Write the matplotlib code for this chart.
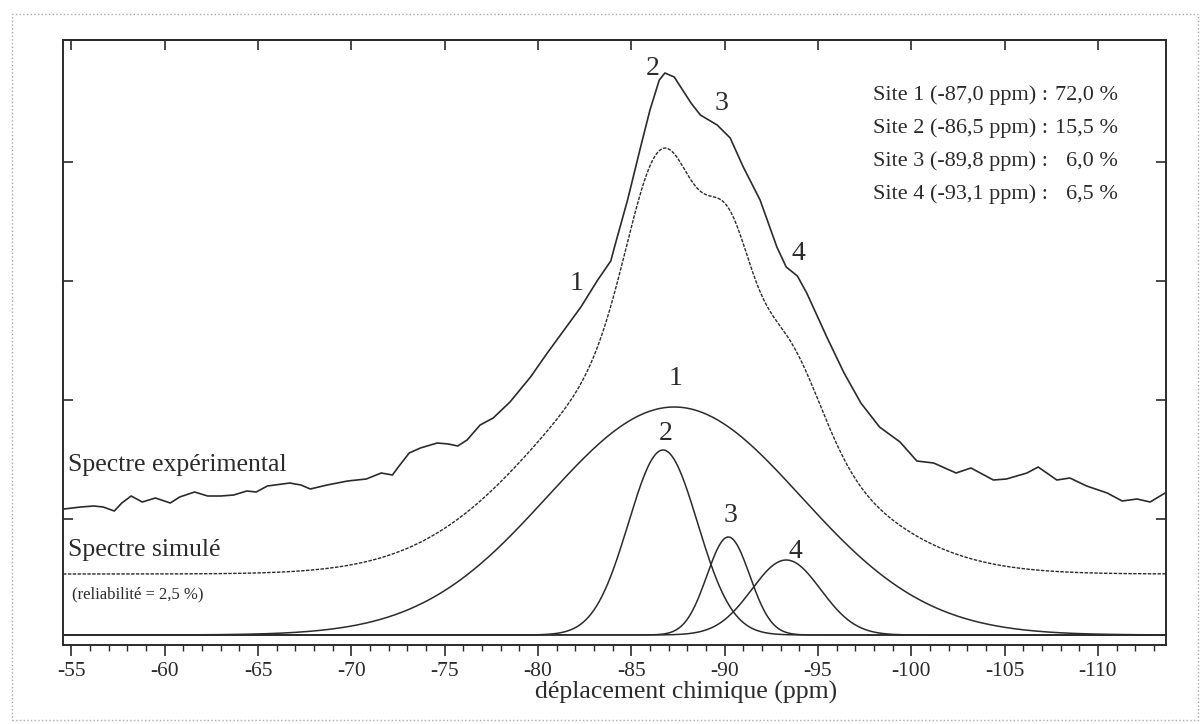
import numpy as np
import matplotlib
matplotlib.use("Agg")
import matplotlib.pyplot as plt
from matplotlib.patches import Rectangle

plt.rcParams['font.family'] = ['Liberation Serif', 'DejaVu Serif']

# spectre expérimental (ppm, intensité en u.a.)
exp_ppm = [-54.6, -55.5, -56.2, -56.7, -57.3, -57.7, -58.2, -58.8, -59.5, -60.3,
           -60.8, -61.6, -62.3, -63.0, -63.7, -64.4, -64.9, -65.5, -66.7, -67.3,
           -67.8, -68.7, -69.8, -70.8, -71.6, -72.2, -72.6, -73.1, -73.7, -74.6,
           -75.2, -75.7, -76.2, -76.9, -77.6, -78.5, -79.6, -80.5, -81.4, -82.3,
           -83.2, -83.9, -84.1, -84.8, -85.5, -86.0, -86.5, -86.8, -87.3, -88.2,
           -88.7, -89.6, -90.3, -91.0, -91.9, -92.8, -93.3, -93.9, -94.4, -95.5,
           -96.4, -97.3, -98.3, -99.4, -100.3, -101.2, -102.4, -103.2, -104.4, -105.1,
           -106.2, -106.8, -107.8, -108.5, -109.4, -110.5, -111.3, -112.1, -112.8, -113.6]
exp_int = [126, 128, 129, 128, 124, 132, 139, 133, 137, 132,
           138, 143, 139, 139, 140, 144, 143, 149, 152, 150,
           146, 150, 154, 156, 162, 160, 170, 182, 187, 192,
           191, 189, 195, 210, 217, 233, 258, 282, 305, 328,
           355, 374, 388, 435, 488, 525, 555, 562, 558, 532,
           520, 510, 497, 468, 435, 388, 368, 359, 342, 297,
           262, 232, 208, 193, 174, 172, 162, 167, 155, 156,
           162, 168, 155, 157, 149, 142, 134, 136, 133, 142]

# décomposition : position (ppm), hauteur, largeur (sigma, ppm)
site_pos = [-87.3, -86.7, -90.2, -93.3]
site_haut = [228, 185, 98, 75]
site_sigma = [6.8, 1.85, 1.15, 1.85]

# spectre simulé = somme des sites, décalé
decal_simule = 61
echelle_simule = 1.03

site_txt = ["Site 1 (-87,0 ppm) :", "Site 2 (-86,5 ppm) :",
            "Site 3 (-89,8 ppm) :", "Site 4 (-93,1 ppm) :"]
site_pct = ["72,0 %", "15,5 %", "6,0 %", "6,5 %"]

couleur = '#2b2b2b'

fig = plt.figure(figsize=(12.03, 7.24), dpi=100)
ax = fig.add_axes([63 / 1203, 1 - 645 / 724, (1166 - 63) / 1203, (645 - 40) / 724])

x = np.linspace(-54.55, -113.65, 1200)
composantes = []
for p, h, s in zip(site_pos, site_haut, site_sigma):
    g = h * np.exp(-(x - p) ** 2 / (2 * s ** 2))
    composantes.append(g)
    ax.plot(x, g, color=couleur, lw=1.1)

simule = decal_simule + echelle_simule * np.sum(composantes, axis=0)
ax.plot(x, simule, color=couleur, lw=1.0, dashes=(2.5, 1))
ax.plot(exp_ppm, exp_int, color=couleur, lw=1.2)

ax.set_xlim(-54.55, -113.65)
ax.set_ylim(-10, 595)

# axes
ax.set_xticks(np.arange(-55, -111, -5))
ax.set_xticklabels([str(v) for v in range(-55, -111, -5)])
ax.set_xticks(np.arange(-55, -114, -1), minor=True)
ax.set_yticks([116, 235, 354, 473])
ax.set_yticklabels([])
ax.tick_params(axis='x', which='major', direction='out', length=8, width=1.2,
               labelsize=15.5, pad=4, colors=couleur)
ax.tick_params(axis='x', which='minor', direction='out', length=4, width=1, colors=couleur)
ax.tick_params(axis='y', direction='in', length=7, width=1.2, left=True, right=True,
               colors=couleur)
sec = ax.secondary_xaxis('top')
sec.set_xticks(np.arange(-55, -111, -5))
sec.set_xticklabels([])
sec.tick_params(direction='in', length=7, width=1.2, colors=couleur)
for sp in list(ax.spines.values()) + list(sec.spines.values()):
    sp.set_linewidth(1.4)
    sp.set_color(couleur)

fig.text(686 / 1203, 1 - 692 / 724, "déplacement chimique (ppm)", ha='center', va='center',
         fontsize=18.5, color=couleur)

# étiquettes
ax.text(-54.84, 170, "Spectre expérimental", fontsize=18.5, va='center', ha='left', color=couleur)
ax.text(-54.84, 85, "Spectre simulé", fontsize=18.5, va='center', ha='left', color=couleur)
ax.text(-55.05, 41, "(reliabilité = 2,5 %)", fontsize=12, va='center', ha='left', color=couleur)

num_exp = [(-82.05, 352), (-86.12, 567), (-89.82, 532), (-93.94, 382)]
num_comp = [(-87.35, 257), (-86.82, 202), (-90.30, 120), (-93.78, 84)]
for i, (px, py) in enumerate(num_exp):
    ax.text(px, py, str(i + 1), fontsize=20, ha='center', va='center', color=couleur)
for i, (px, py) in enumerate(num_comp):
    ax.text(px, py, str(i + 1), fontsize=20, ha='center', va='center', color=couleur)

for i, (t, pct) in enumerate(zip(site_txt, site_pct)):
    yv = 540 - 33 * i
    ax.text(-97.96, yv, t, fontsize=16, ha='left', va='center', color=couleur)
    ax.text(-111.08, yv, pct, fontsize=16, ha='right', va='center', color=couleur)

fig.add_artist(Rectangle((12 / 1203, 1 - 720 / 724), (1198 - 12) / 1203, (720 - 14) / 724,
                         transform=fig.transFigure, fill=False, ec='#aaaaaa', lw=1, ls=':'))

fig.savefig("out.png", dpi=100)
